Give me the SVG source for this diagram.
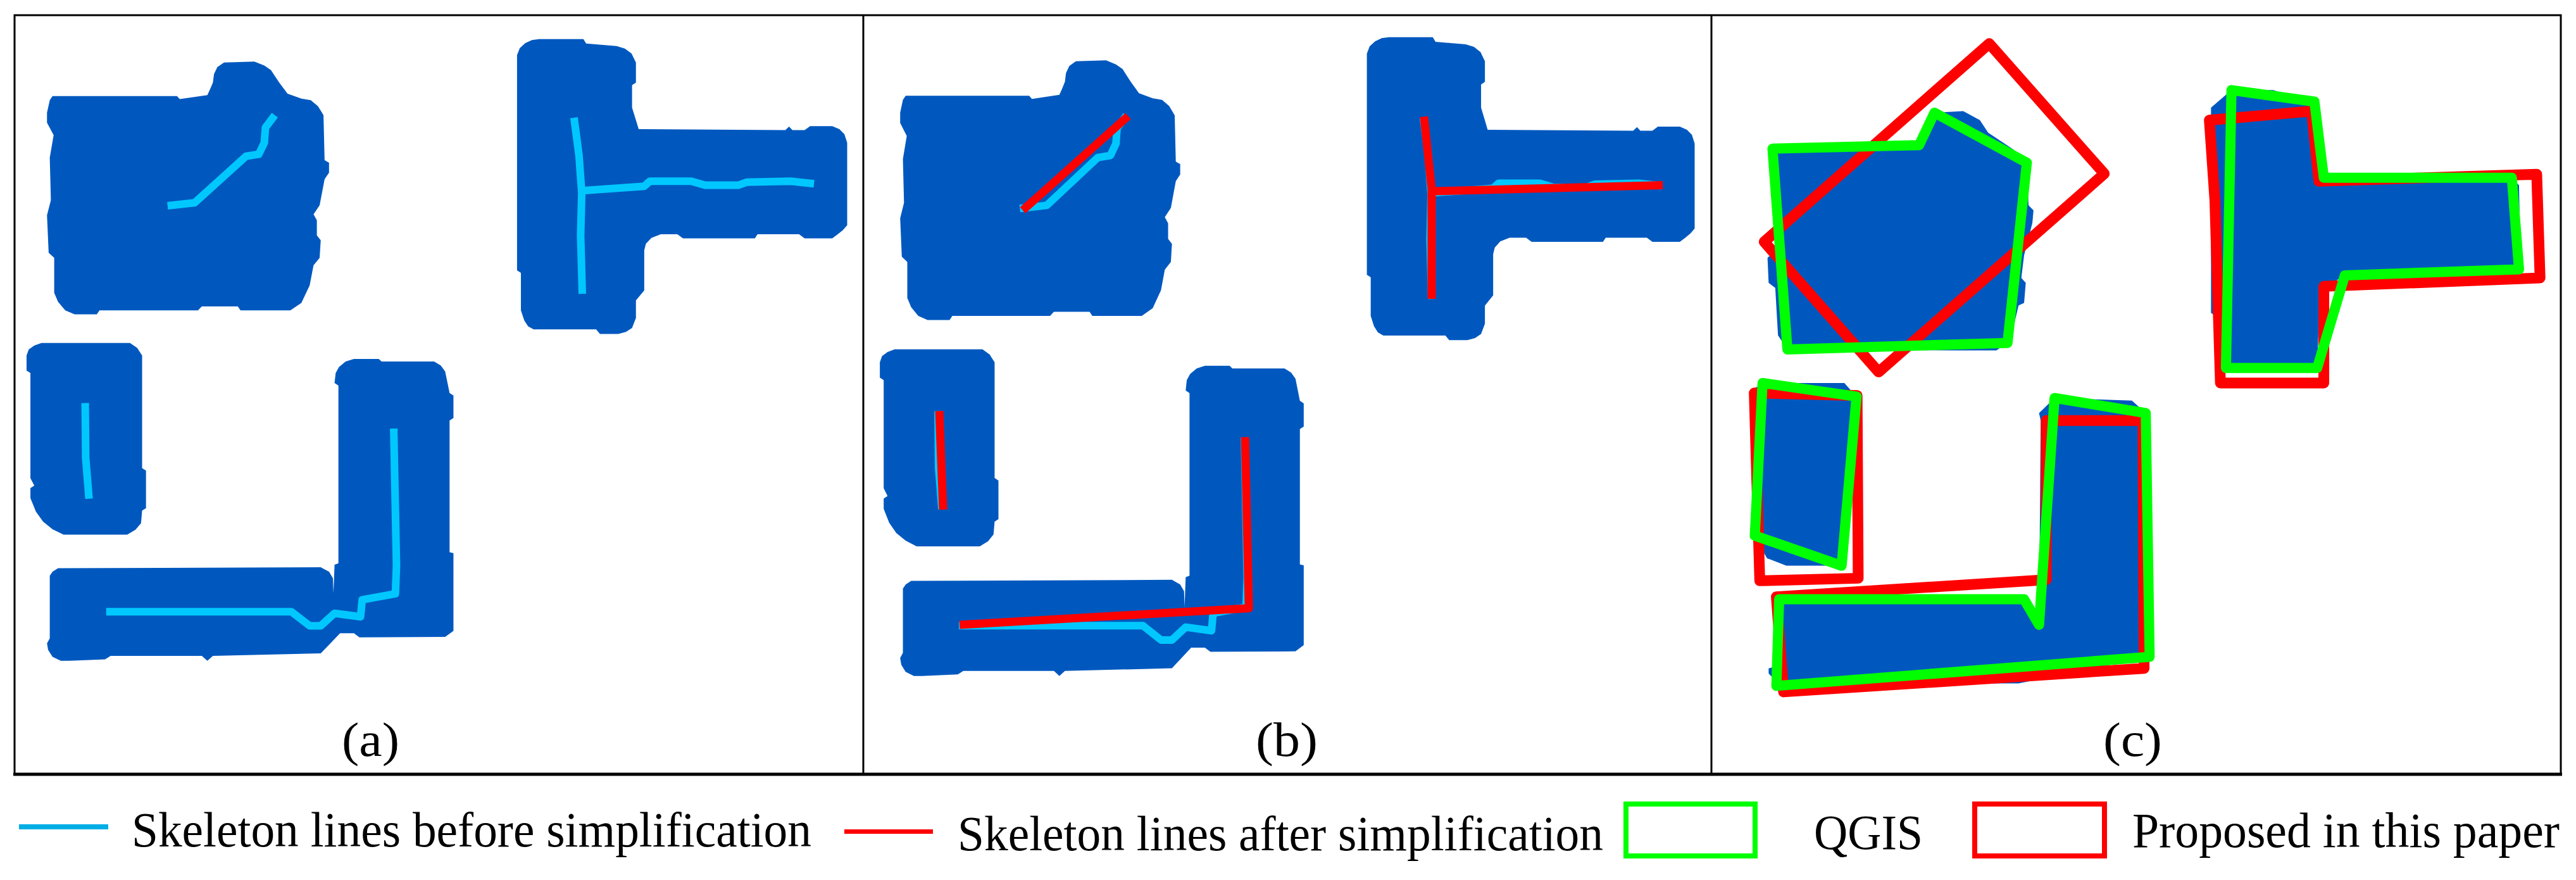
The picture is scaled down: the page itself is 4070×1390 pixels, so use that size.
<svg xmlns="http://www.w3.org/2000/svg" width="4070" height="1390" viewBox="0 0 4070 1390">
<style>
.blue{fill:#0058BF;stroke:none}
.ln{fill:none;stroke-linejoin:round;vector-effect:non-scaling-stroke}
.cy{stroke:#00C8FF;stroke-width:12}
.rd{stroke:#FF0000;stroke-width:13}
.pr{stroke:#FF0000;stroke-width:17}
.gr{stroke:#00FF00;stroke-width:16}
.frame{fill:none;stroke:#000;stroke-width:3}
text{font-family:"Liberation Serif","Times New Roman",serif;fill:#000;font-size:76px}
.leg{font-size:78px}
</style>
<defs>
<g id="buildings">
<polygon class="blue" points="95,192 320,192 325,198 375,190 380,178 385,165 387,148 393,134 405,125 460,123 478,131 490,140 505,165 520,187 545,197 562,200 575,212 585,230 587,320 595,325 595,345 587,358 578,410 567,428 573,440 573,470 580,480 578,515 567,530 560,570 545,605 525,620 435,620 430,612 365,612 358,620 180,620 175,628 135,628 118,620 105,603 98,585 98,515 88,505 85,430 92,400 90,315 97,270 85,245 85,225 90,200"/>
<polygon class="blue" points="935,110 940,96 950,86 962,80 975,78 1055,78 1060,87 1115,92 1130,97 1142,107 1150,125 1150,165 1143,170 1143,215 1150,240 1155,258 1420,260 1427,253 1433,260 1455,260 1465,252 1505,252 1518,258 1527,268 1532,285 1532,450 1524,460 1515,468 1505,476 1455,476 1445,468 1370,468 1365,476 1235,476 1225,468 1195,468 1178,475 1168,487 1165,500 1165,580 1150,600 1150,635 1143,655 1132,663 1118,667 1085,667 1078,658 965,658 955,652 948,640 942,620 942,545 935,540"/>
<polygon class="blue" points="48,710 52,698 62,690 75,685 235,685 248,695 257,710 257,935 264,940 264,1015 257,1020 255,1045 245,1058 230,1068 115,1068 95,1057 78,1042 65,1022 55,995 55,975 62,970 55,955 55,745 48,740"/>
<polygon class="blue" points="607,745 613,733 625,722 640,717 685,717 690,722 785,722 797,730 805,742 813,785 820,790 820,835 813,840 813,1103 820,1105 820,1260 805,1272 650,1273 640,1265 615,1265 580,1305 385,1310 375,1320 365,1310 200,1310 190,1317 125,1320 110,1320 95,1312 87,1298 85,1285 90,1275 90,1150 95,1142 105,1135 580,1133 595,1142 602,1155 603,1185 605,1128 612,1125 612,770 605,765"/>
</g>
<g id="skeleton">
<polyline class="ln cy" points="303,411 352,405 445,312 468,308 478,285 480,255 497,230"/>
<polyline class="ln cy" points="1038,235 1047,310 1052,385 1050,470 1053,587"/>
<polyline class="ln cy" points="1052,381 1165,372 1175,362 1250,362 1275,370 1335,370 1350,364 1430,362 1472,367"/>
<polyline class="ln cy" points="154,805 155,915 161,996"/>
<polyline class="ln cy" points="192,1222 527,1222 560,1250 580,1250 605,1225 652,1232 655,1198 715,1186 717,1130 712,856"/>
</g>
</defs>

<g id="frame">
<rect class="frame" x="23" y="24" width="4023" height="1199"/>
<line x1="21" y1="1223" x2="4048" y2="1223" stroke="#000" stroke-width="5"/>
<line x1="1364" y1="24" x2="1364" y2="1223" stroke="#000" stroke-width="3"/>
<line x1="2704" y1="24" x2="2704" y2="1223" stroke="#000" stroke-width="3"/>
</g>

<g id="panel-a">
<g transform="scale(.8737 .7908)">
<use href="#buildings"/>
<use href="#skeleton"/>
</g>
<text x="540" y="1194" textLength="91" lengthAdjust="spacingAndGlyphs">(a)</text>
</g>

<g id="panel-b">
<g transform="translate(1348.5 -4.7) scale(.8675 .8125)">
<use href="#buildings"/>
<use href="#skeleton"/>
</g>
<g transform="translate(1360 0) scale(.8673 .7908)">
<polyline class="ln rd" points="295,420 487,232"/>
<polyline class="ln rd" points="1026,233 1040,378 1040,597"/>
<polyline class="ln rd" points="1040,382 1461,370"/>
<polyline class="ln rd" points="143,821 150,1018"/>
<polyline class="ln rd" points="180,1248 707,1215 700,873"/>
</g>
<text x="1984" y="1194" textLength="98" lengthAdjust="spacingAndGlyphs">(b)</text>
</g>

<g id="panel-c">
<g transform="translate(2700 0) scale(.8737 .7908)">
<polygon class="blue" points="115,297 380,290 408,225 460,222 490,240 505,265 550,298 575,325 578,410 587,420 585,445 570,510 565,555 573,565 570,605 560,610 545,680 520,700 440,700 142,698 125,670 120,575 108,565 106,515 120,500"/>
<polygon class="blue" points="945,180 1020,180 1095,205 1105,360 1450,355 1465,370 1468,535 1150,550 1105,580 1100,735 935,735 915,700 915,630 908,625 908,215"/>
<polygon class="blue" points="100,765 245,765 265,790 240,1130 140,1130 105,1115 85,1075 85,800 75,780"/>
<polygon class="blue" points="127,1197 570,1197 597,1248 600,840 597,825 625,795 765,800 790,825 797,1312 560,1365 125,1365 108,1345 108,1335 125,1330"/>
<polygon class="ln pr" points="507,87 715,347 307,743 100,483"/>
<polygon class="ln pr" points="905,240 1090,222 1103,362 1497,348 1503,555 1112,572 1112,765 925,765 915,400"/>
<polygon class="ln pr" points="82,785 268,790 270,1155 92,1160"/>
<polygon class="ln pr" points="122,1192 610,1158 610,840 785,840 787,1335 135,1382"/>
<polygon class="ln gr" points="115,297 380,290 408,225 575,325 540,685 142,698"/>
<polygon class="ln gr" points="945,180 1095,203 1112,355 1452,355 1465,538 1150,550 1100,735 935,735"/>
<polygon class="ln gr" points="97,765 267,792 240,1130 83,1070"/>
<polygon class="ln gr" points="127,1197 570,1197 597,1248 625,795 790,825 797,1312 122,1370"/>
</g>
<text x="3323" y="1194" textLength="93" lengthAdjust="spacingAndGlyphs">(c)</text>
</g>

<g id="legend">
<rect x="30" y="1302" width="141" height="8" fill="#00AEE6"/>
<text class="leg" x="208" y="1337" textLength="1074" lengthAdjust="spacingAndGlyphs">Skeleton lines before simplification</text>
<rect x="1334" y="1310" width="140" height="7" fill="#FF0000"/>
<text class="leg" x="1513" y="1343" textLength="1020" lengthAdjust="spacingAndGlyphs">Skeleton lines after simplification</text>
<rect x="2569" y="1270" width="204" height="82" fill="none" stroke="#00FF00" stroke-width="8"/>
<text class="leg" x="2866" y="1341" textLength="172" lengthAdjust="spacingAndGlyphs">QGIS</text>
<rect x="3120" y="1270" width="205" height="82" fill="none" stroke="#FF0000" stroke-width="8"/>
<text class="leg" x="3369" y="1338" textLength="675" lengthAdjust="spacingAndGlyphs">Proposed in this paper</text>
</g>
</svg>
